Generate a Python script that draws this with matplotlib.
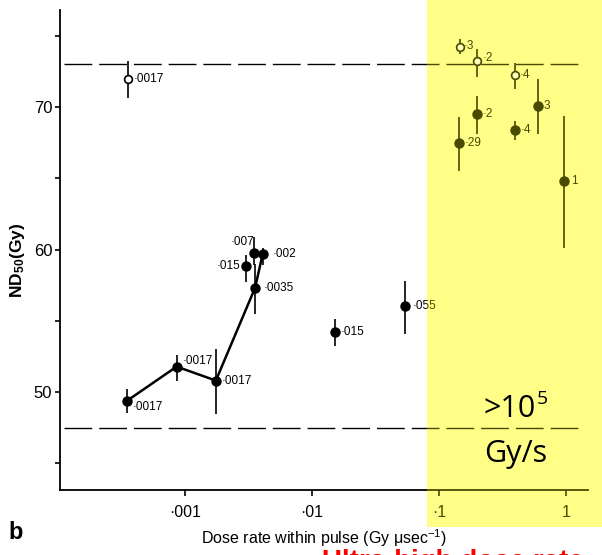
import matplotlib
matplotlib.use("Agg")
import matplotlib.pyplot as plt
from matplotlib.patches import Rectangle

plt.rcParams['font.family'] = ['Liberation Sans', 'DejaVu Sans']
plt.rcParams['mathtext.fontset'] = 'custom'
plt.rcParams['mathtext.rm'] = 'Liberation Sans'
plt.rcParams['mathtext.it'] = 'Liberation Sans:italic'
plt.rcParams['mathtext.bf'] = 'Liberation Sans:bold'

# ---------------- data ----------------
open_x = [3.54e-4, 0.146, 0.200, 0.400]
open_y = [72.0, 74.2, 73.25, 72.25]
open_lo = [70.6, 73.7, 72.1, 71.3]
open_hi = [73.2, 74.8, 74.1, 73.1]
open_labels = ['·0017', '·3', '·2', '·4']

fill_x = [3.48e-4, 8.6e-4, 1.75e-3, 3.02e-3, 3.49e-3, 4.09e-3, 3.56e-3,
          0.0151, 0.0543, 0.144, 0.198, 0.400, 0.600, 0.970]
fill_y = [49.37, 51.78, 50.8, 58.85, 59.74, 59.67, 57.3,
          54.2, 56.06, 67.44, 69.49, 68.36, 70.05, 64.79]
fill_lo = [48.5, 50.8, 48.45, 57.7, 58.9, 58.9, 55.5,
           53.25, 54.1, 65.5, 68.1, 67.7, 68.1, 60.1]
fill_hi = [50.2, 52.6, 53.0, 59.6, 60.9, 60.1, 59.0,
           55.1, 57.8, 69.3, 70.8, 69.0, 72.0, 69.4]
fill_labels = ['·0017', '·0017', '·0017', '·015', '·007', '·002', '·0035',
               '·015', '·055', '·29', '·2', '·4', '3', '1']

line_x = [3.48e-4, 8.6e-4, 1.75e-3, 3.56e-3, 4.09e-3]
line_y = [49.37, 51.78, 50.8, 57.3, 59.67]

ref_levels = [73.0, 47.5]

x_ticks = [1e-3, 1e-2, 1e-1, 1.0]
x_ticklabels = ['·001', '·01', '·1', '1']
y_major = [50, 60, 70]
y_minor = [45, 55, 65, 75]

# label placement (offsets in points, alignment)
open_offsets = [(4, 0, 'left'), (3, 1, 'left'), (4, 2, 'left'), (3, 0, 'left')]
fill_offsets = [(4, -4, 'left'), (4, 4, 'left'), (4, 0, 'left'),
                (-4, 0, 'right'), (0, 8, 'right'), (7, 0, 'left'),
                (6, 0, 'left'), (4, 0, 'left'), (5, 0, 'left'),
                (4, 0, 'left'), (4, 0, 'left'), (4, 0, 'left'),
                (4, 0, 'left'), (5, 0, 'left')]

# ---------------- figure ----------------
fig = plt.figure(figsize=(6.02, 5.55), dpi=100)
ax = fig.add_axes([60/602, 65/555, 528/602, 480/555])
ax.set_facecolor('none')

ax.set_xscale('log')
ax.set_xlim(10**-3.984, 10**0.173)
ax.set_ylim(43.12, 76.81)

# reference dashed lines
for lvl in ref_levels:
    l = ax.axhline(lvl, xmin=0.008, xmax=0.985, color='black', lw=1.0, zorder=1)
    l.set_dashes((20, 5))

# connecting line
ax.plot(line_x, line_y, color='black', lw=1.8, zorder=2)

# error bars
ax.vlines(fill_x, fill_lo, fill_hi, color='black', lw=1.2, zorder=2)
ax.vlines(open_x, open_lo, open_hi, color='black', lw=1.2, zorder=2)

# markers
ax.plot(fill_x, fill_y, 'o', color='black', ms=6.5, zorder=3, ls='none')
ax.plot(open_x, open_y, 'o', mfc='white', mec='black', mew=1.2, ms=5.6,
        zorder=3, ls='none')

for x, y, t, (dx, dy, ha) in zip(fill_x, fill_y, fill_labels, fill_offsets):
    ax.annotate(t, (x, y), xytext=(dx, dy), textcoords='offset points',
                ha=ha, va='center', fontsize=8.5, zorder=4)
for x, y, t, (dx, dy, ha) in zip(open_x, open_y, open_labels, open_offsets):
    ax.annotate(t, (x, y), xytext=(dx, dy), textcoords='offset points',
                ha=ha, va='center', fontsize=8.5, zorder=4)

# axes styling
for s in ['top', 'right']:
    ax.spines[s].set_visible(False)
ax.spines['left'].set_linewidth(1.3)
ax.spines['bottom'].set_linewidth(1.3)

ax.set_xticks(x_ticks)
ax.set_xticklabels(x_ticklabels)
ax.xaxis.set_minor_locator(matplotlib.ticker.NullLocator())
ax.set_yticks(y_major)
ax.set_yticks(y_minor, minor=True)
ax.tick_params(axis='x', which='major', direction='out', length=4, width=1.2,
               labelsize=11.5, pad=7)
ax.tick_params(axis='y', which='both', direction='out', length=3.5, width=1.2,
               labelsize=12, pad=2)

ax.set_xlabel('Dose rate within pulse (Gy μsec$^{-1}$)', fontsize=11.5,
              labelpad=5)
ax.set_ylabel(r'ND$_\mathbf{50}$(Gy)', fontsize=12.5, fontweight='bold')
ax.yaxis.set_label_coords(-0.062, 0.479)

fig.text(8/602, 1 - 539/555, 'b', fontsize=17, fontweight='bold',
         ha='left', va='baseline')

# yellow highlight region (underlay + tinting overlay)
x0, y0 = 427/602, 1 - 527/555
w, h = 1 - x0, 1 - y0
fig.add_artist(Rectangle((x0, y0), w, h, transform=fig.transFigure,
                         facecolor='#ffffc0', edgecolor='none', zorder=-1))
fig.add_artist(Rectangle((x0, y0), w, h, transform=fig.transFigure,
                         facecolor='#ffff00', edgecolor='none', alpha=0.29,
                         zorder=5))

fig.text(536/602, 1 - 417/555, '>10', fontsize=22, family='Open Sans',
         ha='right', va='baseline', color='black', zorder=6)
fig.text(537/602, 1 - 404/555, '5', fontsize=14, family='Open Sans',
         ha='left', va='baseline', color='black', zorder=6)
fig.text(516/602, 1 - 462/555, 'Gy/s', fontsize=22, family='Open Sans',
         ha='center', va='baseline', color='black', zorder=6)

# red caption, cropped at the bottom edge as in the reference
fig.text(322/602, 1 - 569/555, 'Ultra-high dose rate', fontsize=20,
         fontweight='bold', color='#ff0000', ha='left', va='baseline',
         zorder=6)

fig.savefig('out.png', dpi=100)
